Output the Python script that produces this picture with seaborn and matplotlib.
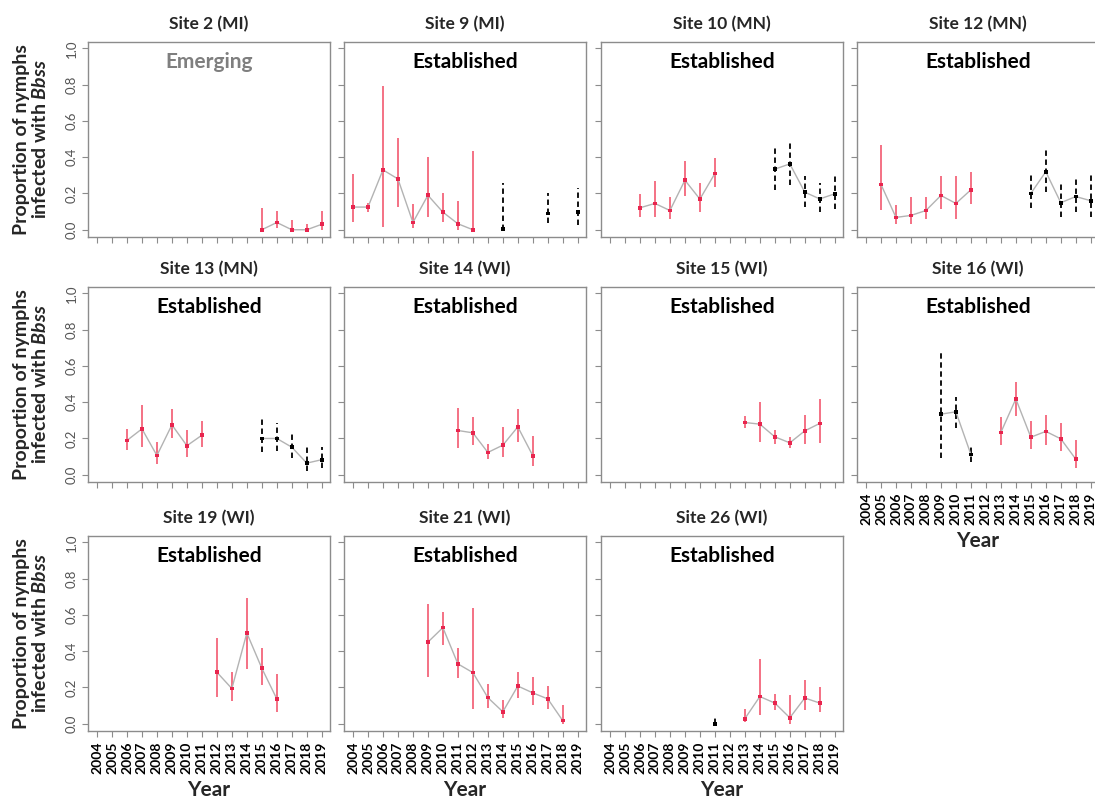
import pandas as pd
import matplotlib.pyplot as plt
import seaborn as sns

# panel titles and status, in reading order
site_names = ["Site 2 (MI)", "Site 9 (MI)", "Site 10 (MN)", "Site 12 (MN)",
              "Site 13 (MN)", "Site 14 (WI)", "Site 15 (WI)", "Site 16 (WI)",
              "Site 19 (WI)", "Site 21 (WI)", "Site 26 (WI)"]
site_status = ["Emerging"] + ["Established"] * 10
years_axis = list(range(2004, 2020))

# each site: year, proportion, lower / upper CI, years shown in black (dashed CI)
s2_year = [2015, 2016, 2017, 2018, 2019]
s2_prop = [0.0, 0.04, 0.0, 0.0, 0.03]
s2_lo = [0.0, 0.01, 0.0, 0.0, 0.0]
s2_hi = [0.12, 0.106, 0.055, 0.033, 0.105]
s2_black = []

s9_year = [2004, 2005, 2006, 2007, 2008, 2009, 2010, 2011, 2012, 2014, 2017, 2019]
s9_prop = [0.125, 0.125, 0.33, 0.28, 0.04, 0.19, 0.097, 0.033, 0.0, 0.005, 0.09, 0.097]
s9_lo = [0.04, 0.10, 0.015, 0.125, 0.01, 0.073, 0.04, 0.0, 0.0, 0.0, 0.037, 0.028]
s9_hi = [0.31, 0.15, 0.79, 0.506, 0.14, 0.40, 0.205, 0.158, 0.433, 0.257, 0.20, 0.23]
s9_black = [2014, 2017, 2019]

s10_year = [2006, 2007, 2008, 2009, 2010, 2011, 2015, 2016, 2017, 2018, 2019]
s10_prop = [0.121, 0.145, 0.106, 0.273, 0.169, 0.31, 0.334, 0.363, 0.207, 0.17, 0.198]
s10_lo = [0.068, 0.068, 0.06, 0.187, 0.10, 0.237, 0.217, 0.248, 0.128, 0.10, 0.114]
s10_hi = [0.198, 0.266, 0.183, 0.38, 0.259, 0.398, 0.455, 0.484, 0.297, 0.26, 0.308]
s10_black = [2015, 2016, 2017, 2018, 2019]

s12_year = [2005, 2006, 2007, 2008, 2009, 2010, 2011, 2015, 2016, 2017, 2018, 2019]
s12_prop = [0.25, 0.068, 0.079, 0.106, 0.189, 0.145, 0.22, 0.20, 0.32, 0.149, 0.183, 0.16]
s12_lo = [0.11, 0.033, 0.03, 0.06, 0.114, 0.06, 0.143, 0.12, 0.207, 0.07, 0.10, 0.07]
s12_hi = [0.468, 0.138, 0.183, 0.183, 0.297, 0.294, 0.32, 0.32, 0.446, 0.27, 0.294, 0.30]
s12_black = [2015, 2016, 2017, 2018, 2019]

s13_year = [2006, 2007, 2008, 2009, 2010, 2011, 2015, 2016, 2017, 2018, 2019]
s13_prop = [0.189, 0.253, 0.106, 0.275, 0.16, 0.218, 0.20, 0.20, 0.152, 0.064, 0.083]
s13_lo = [0.134, 0.152, 0.06, 0.20, 0.10, 0.152, 0.123, 0.132, 0.095, 0.022, 0.037]
s13_hi = [0.25, 0.385, 0.18, 0.361, 0.244, 0.294, 0.31, 0.284, 0.224, 0.152, 0.152]
s13_black = [2015, 2016, 2017, 2018, 2019]

s14_year = [2011, 2012, 2013, 2014, 2015, 2016]
s14_prop = [0.244, 0.231, 0.123, 0.163, 0.264, 0.105]
s14_lo = [0.15, 0.163, 0.086, 0.097, 0.183, 0.048]
s14_hi = [0.367, 0.317, 0.17, 0.262, 0.363, 0.213]
s14_black = []

s15_year = [2013, 2014, 2015, 2016, 2017, 2018]
s15_prop = [0.288, 0.279, 0.209, 0.176, 0.242, 0.283]
s15_lo = [0.255, 0.183, 0.172, 0.147, 0.167, 0.174]
s15_hi = [0.323, 0.40, 0.248, 0.207, 0.332, 0.417]
s15_black = []

s16_year = [2009, 2010, 2011, 2013, 2014, 2015, 2016, 2017, 2018]
s16_prop = [0.334, 0.347, 0.112, 0.233, 0.418, 0.207, 0.239, 0.198, 0.086]
s16_lo = [0.095, 0.26, 0.07, 0.165, 0.325, 0.143, 0.165, 0.132, 0.035]
s16_hi = [0.688, 0.428, 0.156, 0.316, 0.512, 0.294, 0.327, 0.288, 0.194]
s16_black = [2009, 2010, 2011]

s19_year = [2012, 2013, 2014, 2015, 2016]
s19_prop = [0.284, 0.194, 0.50, 0.306, 0.137]
s19_lo = [0.149, 0.124, 0.304, 0.212, 0.063]
s19_hi = [0.472, 0.286, 0.694, 0.415, 0.273]
s19_black = []

s21_year = [2009, 2010, 2011, 2012, 2013, 2014, 2015, 2016, 2017, 2018]
s21_prop = [0.45, 0.53, 0.33, 0.282, 0.144, 0.066, 0.208, 0.17, 0.137, 0.017]
s21_lo = [0.255, 0.435, 0.253, 0.079, 0.089, 0.03, 0.144, 0.105, 0.083, 0.0]
s21_hi = [0.659, 0.618, 0.415, 0.64, 0.221, 0.131, 0.288, 0.255, 0.208, 0.105]
s21_black = []

s26_year = [2011, 2013, 2014, 2015, 2016, 2017, 2018]
s26_prop = [0.0, 0.028, 0.15, 0.114, 0.033, 0.142, 0.114]
s26_lo = [0.0, 0.007, 0.05, 0.077, 0.0, 0.076, 0.063]
s26_hi = [0.048, 0.079, 0.358, 0.162, 0.16, 0.242, 0.20]
s26_black = [2011]

site_data = [
    (s2_year, s2_prop, s2_lo, s2_hi, s2_black),
    (s9_year, s9_prop, s9_lo, s9_hi, s9_black),
    (s10_year, s10_prop, s10_lo, s10_hi, s10_black),
    (s12_year, s12_prop, s12_lo, s12_hi, s12_black),
    (s13_year, s13_prop, s13_lo, s13_hi, s13_black),
    (s14_year, s14_prop, s14_lo, s14_hi, s14_black),
    (s15_year, s15_prop, s15_lo, s15_hi, s15_black),
    (s16_year, s16_prop, s16_lo, s16_hi, s16_black),
    (s19_year, s19_prop, s19_lo, s19_hi, s19_black),
    (s21_year, s21_prop, s21_lo, s21_hi, s21_black),
    (s26_year, s26_prop, s26_lo, s26_hi, s26_black),
]

sns.set_theme(style="white")
plt.rcParams["font.family"] = ["Lato", "DejaVu Sans"]
plt.rcParams["mathtext.fontset"] = "custom"
plt.rcParams["mathtext.it"] = "Lato:italic:bold"
plt.rcParams["mathtext.rm"] = "Lato:bold"

W, H = 1095, 801
fig = plt.figure(figsize=(W / 100, H / 100), dpi=100)
col_left = [88, 344, 601, 857]
row_top = [42, 287, 536]
ax_w, ax_h = 242, 195
frame = "#8c8c8c"
red_bar = "#f47184"
red_pt = "#e8254e"

for i, (name, status, (yr, pr, lo, hi, blk)) in enumerate(zip(site_names, site_status, site_data)):
    r, c = divmod(i, 4)
    ax = fig.add_axes([col_left[c] / W, 1 - (row_top[r] + ax_h) / H, ax_w / W, ax_h / H])

    df = pd.DataFrame({"year": yr, "prop": pr, "lo": lo, "hi": hi})
    df["method"] = ["black" if y in blk else "red" for y in df["year"]]
    df["seg"] = (df["year"].diff() != 1).cumsum()

    red = df[df["method"] == "red"]
    black = df[df["method"] == "black"]
    ax.vlines(red["year"], red["lo"], red["hi"], color=red_bar, lw=1.4, zorder=2)
    ax.vlines(black["year"], black["lo"], black["hi"], color="black", lw=1.3,
              linestyles=(0, (3, 2)), zorder=2)
    sns.lineplot(data=df, x="year", y="prop", units="seg", estimator=None,
                 color="#b3b3b3", lw=1, ax=ax, legend=False, zorder=3)
    sns.scatterplot(data=df, x="year", y="prop", hue="method",
                    palette={"red": red_pt, "black": "black"}, marker="s", s=7,
                    linewidth=0, legend=False, ax=ax, zorder=4)

    ax.set_xlim(2003.4, 2019.55)
    ax.set_ylim(-0.04, 1.035)
    ax.set_xticks(years_axis)
    ax.set_yticks([0, 0.2, 0.4, 0.6, 0.8, 1.0])
    ax.set_xlabel("")
    ax.set_ylabel("")
    for sp in ax.spines.values():
        sp.set_visible(True)
        sp.set_color(frame)
        sp.set_linewidth(1)
    ax.tick_params(direction="out", length=4, width=0.8, color=frame,
                   bottom=True, left=True)

    if c == 0:
        ax.set_yticklabels([f"{v:.1f}" for v in [0, 0.2, 0.4, 0.6, 0.8, 1.0]],
                           rotation=90, va="center", fontsize=9.5, color="#555555")
    else:
        ax.tick_params(labelleft=False)

    if r == 2 or (r == 1 and c == 3):
        ax.set_xticklabels([str(y) for y in years_axis], rotation=90,
                           fontsize=10, fontweight="bold", color="black")
        fig.text((col_left[c] + ax_w / 2) / W, 1 - (row_top[r] + ax_h + 59) / H, "Year",
                 ha="center", va="center", fontsize=15, fontweight="bold")
    else:
        ax.tick_params(labelbottom=False)

    ax.set_title(name, fontsize=12.5, fontweight="bold", pad=9)
    ax.text(0.5, 0.895, status, transform=ax.transAxes, ha="center", va="center",
            fontsize=15, fontweight="bold",
            color="#7f7f7f" if status == "Emerging" else "black")

for r in range(3):
    fig.text(31 / W, 1 - (row_top[r] + ax_h / 2) / H,
             "Proportion of nymphs\ninfected with $Bbss$", rotation=90,
             ha="center", va="center", fontsize=14, fontweight="bold",
             linespacing=1.1)

fig.savefig("out.png", dpi=100)
